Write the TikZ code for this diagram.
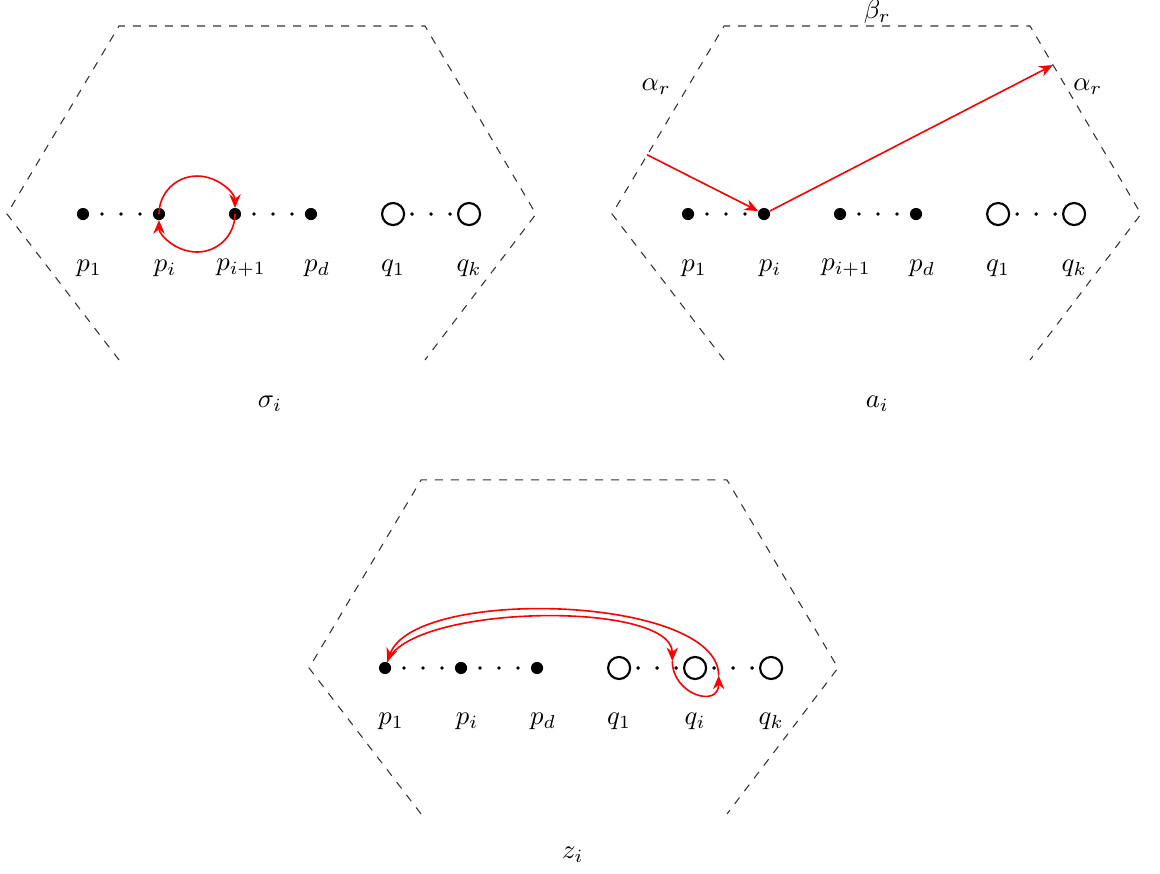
\documentclass[tikz,border=0pt]{standalone}
\usepackage{amssymb}
\usepackage{tikz}
\usetikzlibrary{arrows.meta,calc}
\newcommand{\hexfr}{%
  \draw[hexline] (0.474,-1.92) -- (-1,0) -- (0.474,2.474) -- (4.5,2.474) -- (5.96,0) -- (4.5,-1.92);%
}
\newcommand{\ddd}[2]{%
  \foreach \pos in {0.25,0.5,0.75}
    \fill ($(#1)!\pos!(#2)$) circle [radius=.025];%
}
\tikzset{
  pt/.style={circle,fill=black,inner sep=0pt,minimum size=1.6mm},
  hole/.style={circle,draw=black,thick,inner sep=0pt,minimum size=2.9mm},
  hexline/.style={dashed,black!80},
  plab/.style={xshift=.08cm},
  redarr/.style={red,semithick,-{Stealth[length=1.8mm,width=1.5mm,inset=.6mm]}},
}

\begin{document}
\begin{tikzpicture}
  \useasboundingbox (0,0) rectangle (15.263,-11.487);
  % sigma_i
  \begin{scope}[shift={(1.092,-2.816)}]
    \hexfr
    \node[pt] (s1) at (0,0) {};
    \node[pt] (si) at (1,0) {};
    \node[pt] (si1) at (2,0) {};
    \node[pt] (sd) at (3,0) {};
    \node[hole] (sq1) at (4.08,0) {};
    \node[hole] (sqk) at (5.08,0) {};
    \ddd{s1}{si} \ddd{si1}{sd} \ddd{sq1}{sqk}
    \node[plab] (ls1) at (0,-0.71) {$p_1$};
    \node[plab] (lsi) at (1,-0.71) {$p_i$};
    \node[plab] (lsi1) at (2,-0.71) {$p_{i+1}$};
    \node[plab] (lsd) at (3,-0.71) {$p_d$};
    \node (lsq1) at (4.08,-0.71) {$q_1$};
    \node (lsqk) at (5.08,-0.71) {$q_k$};
    \draw[redarr,shorten >=.8mm] (si.center) arc [start angle=180,end angle=0,radius=.5];
    \draw[redarr,shorten >=.8mm] (si1.center) arc [start angle=0,end angle=-180,radius=.5];
    \node (sig) at (2.46,-2.5) {$\sigma_i$};
  \end{scope}
  % a_i
  \begin{scope}[shift={(9.053,-2.816)}]
    \hexfr
    \node[pt] (a1) at (0,0) {};
    \node[pt] (ai) at (1,0) {};
    \node[pt] (ai1) at (2,0) {};
    \node[pt] (ad) at (3,0) {};
    \node[hole] (aq1) at (4.08,0) {};
    \node[hole] (aqk) at (5.08,0) {};
    \ddd{a1}{ai} \ddd{ai1}{ad} \ddd{aq1}{aqk}
    \node[plab] (la1) at (0,-0.71) {$p_1$};
    \node[plab] (lai) at (1,-0.71) {$p_i$};
    \node[plab] (lai1) at (2,-0.71) {$p_{i+1}$};
    \node[plab] (lad) at (3,-0.71) {$p_d$};
    \node (laq1) at (4.08,-0.71) {$q_1$};
    \node (laqk) at (5.08,-0.71) {$q_k$};
    \node (alpl) at (-0.42,1.68) {$\alpha_r$};
    \node (alpr) at (5.26,1.68) {$\alpha_r$};
    \node (bet) at (2.49,2.66) {$\beta_r$};
    \coordinate (ain) at (-0.54,0.78);
    \coordinate (aout) at (4.8,1.96);
    \draw[redarr] (ain) -- (ai);
    \draw[redarr] (ai) -- (aout);
    \node (alab) at (2.49,-2.5) {$a_i$};
  \end{scope}
  % z_i
  \begin{scope}[shift={(5.066,-8.789)}]
    \hexfr
    \node[pt] (z1) at (0,0) {};
    \node[pt] (zi) at (1,0) {};
    \node[pt] (zd) at (2,0) {};
    \node[hole] (zq1) at (3.08,0) {};
    \node[hole] (zqi) at (4.08,0) {};
    \node[hole] (zqk) at (5.08,0) {};
    \ddd{z1}{zi} \ddd{zi}{zd} \ddd{zq1}{zqi} \ddd{zqi}{zqk}
    \node[plab] (lz1) at (0,-0.7) {$p_1$};
    \node[plab] (lzi) at (1,-0.7) {$p_i$};
    \node[plab] (lzd) at (2,-0.7) {$p_d$};
    \node (lzq1) at (3.08,-0.7) {$q_1$};
    \node (lzqi) at (4.08,-0.7) {$q_i$};
    \node (lzqk) at (5.08,-0.7) {$q_k$};
    \coordinate (za) at ($(zqi)+(-0.3,0.09)$);
    \coordinate (zb) at ($(zqi)+(0.31,-0.1)$);
    \draw[redarr] (z1) to[out=70,in=90,looseness=.55] (za);
    \draw[redarr] (za) to[out=-90,in=-90,looseness=1.75] (zb);
    \draw[redarr] (zb) to[out=90,in=70,looseness=.62] (z1);
    \node (zlab) at (2.47,-2.46) {$z_i$};
  \end{scope}
\end{tikzpicture}
\end{document}
